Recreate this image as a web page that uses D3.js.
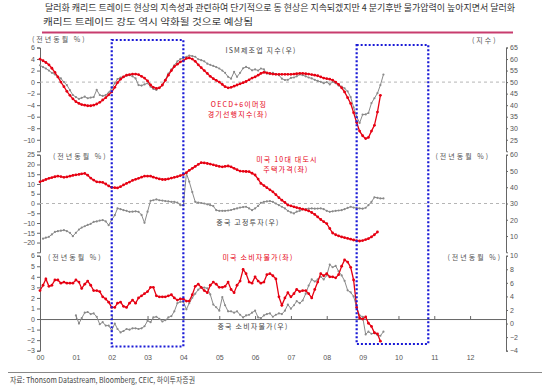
<!DOCTYPE html>
<html>
<head>
<meta charset="utf-8">
<script src="https://cdn.jsdelivr.net/npm/d3@7"></script>
<style>
  body { margin: 0; background: #fff; }
  svg { display: block; }
  .axis text { font-family: 'Liberation Sans', Arial, sans-serif; font-size: 7px; fill: #555; }
  .axis path, .axis line { stroke: #666; }
  .kr { font-family: 'Noto Sans CJK KR', sans-serif; }
</style>
</head>
<body>
<svg id="chart" width="550" height="391"></svg>
<script>

var yearLabels = ['00','01','02','03','04','05','06','07','08','09','10','11','12'];

var topLeftTicks = [6,4,2,0,-2,-4,-6,-8,-10];
var topRightTicks = [65,60,55,50,45,40,35,30,25];
var midLeftTicks = [25,20,15,10,5,0,-5,-10,-15,-20];
var midRightTicks = [60,50,40,30,20,10];
var botLeftTicks = [6,5,4,3,2,1,0,-1,-2,-3];
var botRightTicks = [10,8,6,4,2,0,-2,-4];

// OECD+6 emerging leading indicator, yoy %, from 2000-01
var oecdCli = [
  4.0,3.7,3.4,3.0,2.4,1.7,0.9,0.0,-0.8,-1.6,-2.3,-2.9,
  -3.4,-3.7,-3.9,-4.0,-4.1,-4.1,-4.0,-3.8,-3.5,-3.1,-2.7,-2.2,
  -1.7,-0.9,-0.1,0.5,0.9,1.2,1.3,1.4,1.4,1.3,1.0,0.7,
  0.2,-0.5,-0.9,-1.1,-1.0,-0.5,0.3,1.2,2.0,2.7,3.1,3.5,
  3.7,4.1,4.2,4.0,3.6,3.0,2.5,2.0,1.5,1.0,0.6,0.3,
  0.0,-0.4,-0.8,-1.0,-0.9,-0.7,-0.5,-0.3,-0.1,0.1,0.4,0.7,
  0.9,1.2,1.5,1.7,1.6,1.5,1.4,1.35,1.35,1.35,1.35,1.35,
  1.35,1.4,1.45,1.5,1.5,1.45,1.4,1.3,1.2,1.1,0.9,0.7,
  0.6,0.5,0.35,0.0,-0.4,-1.0,-1.7,-2.7,-3.7,-5.3,-7.0,-8.5,
  -9.3,-9.8,-9.6,-8.5,-7.5,-5.2,-2.3
];
var oecdStart = '2000-01';

// ISM manufacturing index, from 2000-01
var ismIndex = [
  57.3,56.5,55.9,55.0,54.0,53.3,52.2,51.6,50.0,48.7,46.5,44.4,
  43.5,42.7,43.2,43.7,43.0,43.3,43.5,46.6,44.4,44.0,44.4,45.5,
  47.3,49.5,51.3,52.0,52.3,52.8,53.0,52.5,51.6,48.7,48.5,49.0,
  49.5,48.0,47.0,46.6,47.5,48.7,51.0,53.7,55.5,57.3,59.0,60.0,
  60.4,61.0,61.5,61.3,61.0,59.9,59.5,59.0,58.0,57.5,57.0,56.5,
  55.9,55.0,54.0,52.3,51.5,54.4,52.3,54.0,56.0,56.6,56.0,55.1,
  55.5,55.0,55.9,55.5,53.7,53.5,54.0,53.5,53.0,51.5,50.9,51.0,
  51.8,52.0,52.5,53.3,53.0,52.5,52.0,51.6,51.0,50.5,50.1,49.5,
  50.0,49.0,50.1,49.5,48.5,48.0,47.3,46.0,43.5,39.0,35.0,32.3,
  35.9,36.0,36.6,40.9,43.0,45.2,48.7,53.3
];
var ismStart = '2000-01';

// US 10-city house prices, yoy %, from 2000-01
var usHousePrice = [
  11.1,11.7,12.3,12.9,13.3,13.7,14.0,13.8,13.4,13.6,14.0,14.4,
  14.7,14.9,15.2,15.4,14.5,13.0,12.0,11.1,11.0,10.8,10.0,9.0,
  8.2,8.1,8.0,8.6,9.5,10.3,11.0,11.8,12.4,12.9,13.5,14.0,
  14.0,14.0,13.5,13.0,12.6,12.3,12.3,12.6,13.0,13.4,13.8,14.3,
  14.9,15.8,17.0,18.0,19.0,20.0,20.9,20.8,20.5,20.2,19.8,19.4,
  19.0,18.8,19.0,19.2,18.8,18.0,17.3,16.6,16.5,16.4,16.3,15.5,
  14.6,12.5,10.3,9.2,8.1,7.0,6.0,4.5,3.0,1.7,0.5,-0.8,
  -1.2,-1.7,-2.1,-2.5,-2.9,-3.3,-3.8,-4.6,-5.6,-6.9,-8.2,-9.3,
  -10.3,-12.8,-15.1,-16.0,-16.6,-17.1,-17.5,-17.9,-18.3,-18.7,-19.0,-19.2,
  -19.0,-18.5,-18.0,-17.1,-16.0,-14.6
];
var housePriceStart = '2000-01';

// China fixed asset investment, yoy %, from 2000-02
var chinaFai = [
  8.4,9.0,9.5,11.0,12.5,13.0,13.3,13.6,13.0,12.0,9.9,
  12.0,14.0,15.2,16.0,16.8,17.5,18.7,19.0,19.5,19.8,19.0,16.7,
  20.0,22.8,27.0,26.5,25.9,25.5,24.9,25.0,25.2,24.9,23.0,18.1,
  25.0,31.7,32.0,32.5,32.0,31.8,31.5,31.3,31.0,31.0,30.5,29.0,
  29.0,48.6,43.4,37.0,31.0,30.5,30.3,30.0,29.5,29.0,28.4,25.9,
  25.5,25.5,25.5,25.7,26.0,26.5,27.0,27.5,27.8,28.0,27.0,25.9,
  27.0,28.5,30.4,31.0,31.3,31.5,31.0,30.0,29.0,28.0,27.0,25.5,
  24.5,23.9,25.0,25.5,26.4,26.6,26.8,27.0,26.8,26.9,27.0,26.5,
  25.5,24.9,25.2,25.5,25.7,25.9,26.5,27.3,28.0,27.5,27.2,27.0,
  26.8,27.4,29.0,31.0,33.8,33.5,33.1,33.1
];
var faiStart = '2000-02';

// US CPI, yoy %, from 2000-01
var usCpi = [
  2.7,3.2,3.8,3.1,3.2,3.7,3.7,3.4,3.5,3.4,3.4,3.4,
  3.7,3.5,2.9,3.3,3.6,3.2,2.7,2.7,2.6,2.1,1.9,1.6,
  1.1,1.1,1.5,1.6,1.2,1.1,1.5,1.8,1.5,2.0,2.2,2.4,
  2.6,3.0,3.0,2.2,2.1,2.1,2.1,2.2,2.3,2.0,1.8,1.9,
  1.9,1.7,1.7,2.3,3.1,3.3,3.0,2.7,2.5,3.2,3.5,3.3,
  3.0,3.0,3.1,3.5,2.8,2.5,3.2,3.6,4.7,4.3,3.5,3.4,
  4.0,3.6,3.4,3.5,4.2,4.3,4.1,3.8,2.1,1.3,2.0,2.5,
  2.1,2.4,2.8,2.6,2.7,2.7,2.4,2.0,2.8,3.5,4.3,4.1,
  4.3,4.0,4.0,3.9,4.2,5.0,5.6,5.4,4.9,3.7,1.1,0.1,
  0.0,0.2,-0.4,-0.7,-1.3,-1.4,-2.1
];
var usCpiStart = '2000-01';

// China CPI, yoy %, from 2001-01
var chinaCpi = [
  1.2,0.0,0.8,1.6,1.7,1.4,1.5,1.0,-0.1,0.2,-0.3,-0.3,
  -1.0,0.0,-0.8,-1.3,-1.1,-0.8,-0.9,-0.7,-0.7,-0.8,-0.7,-0.4,
  0.4,0.2,0.9,1.0,0.7,0.3,0.5,0.9,1.1,1.8,3.0,3.2,
  3.2,2.1,3.0,3.8,4.4,5.0,5.3,5.3,5.2,4.3,2.8,2.4,
  1.9,3.9,2.7,1.8,1.8,1.6,1.8,1.3,0.9,1.2,1.3,1.6,
  1.9,0.9,0.8,1.2,1.4,1.5,1.0,1.3,1.5,1.4,1.9,2.8,
  2.2,2.7,3.3,3.0,3.4,4.4,5.6,6.5,6.2,6.5,6.9,6.5,
  7.1,8.7,8.3,8.5,7.7,7.1,6.3,4.9,4.6,4.0,2.4,1.2,
  1.0,-1.6,-1.2,-1.5,-1.4,-1.7,-1.8,-1.2
];
var chinaCpiStart = '2001-01';

var periods = [['2002-01','2004-01'], ['2008-11','2010-11']];


var svg = d3.select('#chart');
var red = '#e60012', grey = '#8a8a8a';
var parseMonth = d3.timeParse('%Y-%m');

var x = d3.scaleTime()
    .domain([new Date(2000,0,1), new Date(2013,0,1)])
    .range([40, 506]);

function monthly(start, values) {
    var d0 = parseMonth(start);
    return values.map(function(v, i){
        return {date: d3.timeMonth.offset(d0, i), value: v};
    });
}

// header
svg.append('text').attr('class','kr').attr('x',45).attr('y',11)
    .attr('font-size','9px').attr('fill','#333')
    .attr('textLength',470).attr('lengthAdjust','spacingAndGlyphs')
    .text('달러화 캐리드 트레이드 현상의 지속성과 관련하여 단기적으로 동 현상은 지속되겠지만 4 분기후반 물가압력이 높아지면서 달러화');
svg.append('text').attr('class','kr').attr('x',43).attr('y',25)
    .attr('font-size','9px').attr('fill','#333')
    .attr('textLength',210).attr('lengthAdjust','spacingAndGlyphs')
    .text('캐리드 트레이드 강도 역시 약화될 것으로 예상됨');
svg.append('line').attr('x1',42).attr('x2',513).attr('y1',32.5).attr('y2',32.5)
    .attr('stroke','#c83c6e').attr('stroke-width',2);

var panels = [
    {y0: 47.5, y1: 151.3, left: [-12, 6], right: [20, 65], lt: topLeftTicks, rt: topRightTicks},
    {y0: 154.7, y1: 252.3, left: [-25, 25], right: [0, 60], lt: midLeftTicks, rt: midRightTicks},
    {y0: 255.7, y1: 350.7, left: [-3, 6], right: [-4, 10], lt: botLeftTicks, rt: botRightTicks}
];

panels.forEach(function(p){
    p.yL = d3.scaleLinear().domain(p.left).range([p.y1, p.y0]);
    p.yR = d3.scaleLinear().domain(p.right).range([p.y1, p.y0]);

    svg.append('g').attr('class','axis').attr('transform','translate(40,0)')
        .call(d3.axisLeft(p.yL).tickValues(p.lt).tickSize(3).tickPadding(2).tickFormat(d3.format('d')));
    svg.append('g').attr('class','axis').attr('transform','translate(506,0)')
        .call(d3.axisRight(p.yR).tickValues(p.rt).tickSize(2).tickPadding(2).tickFormat(d3.format('d')));
});

var pTop = panels[0], pMid = panels[1], pBot = panels[2];
var yearDates = yearLabels.map(function(y){ return parseMonth('20' + y + '-01'); });

// reference lines
[pTop, pMid].forEach(function(p){
    svg.append('line').attr('x1',40).attr('x2',506)
        .attr('y1',p.yL(0)).attr('y2',p.yL(0))
        .attr('stroke','#b5b5b5').attr('stroke-dasharray','3,3');
});
svg.append('g').attr('class','axis').attr('transform','translate(0,' + pBot.yL(0) + ')')
    .call(d3.axisBottom(x).tickValues(yearDates)
        .tickSizeInner(-3).tickSizeOuter(0).tickFormat(''));

svg.append('g').attr('class','axis').attr('transform','translate(0,352)')
    .call(d3.axisBottom(x).tickValues(yearDates)
        .tickSize(0).tickPadding(3).tickFormat(function(d, i){ return yearLabels[i]; }))
    .select('.domain').remove();

function drawSeries(points, y, color, r, w) {
    var g = svg.append('g');
    g.append('path').datum(points)
        .attr('d', d3.line().x(function(d){ return x(d.date); }).y(function(d){ return y(d.value); }))
        .attr('fill','none').attr('stroke',color).attr('stroke-width',w);
    g.selectAll('circle').data(points).enter().append('circle')
        .attr('cx', function(d){ return x(d.date); })
        .attr('cy', function(d){ return y(d.value); })
        .attr('r', r).attr('fill', color);
}

drawSeries(monthly(ismStart, ismIndex), pTop.yR, grey, 1.1, 1);
drawSeries(monthly(oecdStart, oecdCli), pTop.yL, red, 1.4, 1.3);
drawSeries(monthly(faiStart, chinaFai), pMid.yR, grey, 1.1, 1);
drawSeries(monthly(housePriceStart, usHousePrice), pMid.yL, red, 1.4, 1.3);
drawSeries(monthly(chinaCpiStart, chinaCpi), pBot.yR, grey, 1.1, 1);
drawSeries(monthly(usCpiStart, usCpi), pBot.yL, red, 1.4, 1.3);

// labels (ls = letter spacing)
var labels = [
    {t: '(전년동월 %)', x: 32, y: 42, c: '#555', a: 'start', ls: 2},
    {t: '(지수)', x: 472, y: 43, c: '#555', a: 'start', ls: 2},
    {t: '(전년동월 %)', x: 53, y: 159, c: '#555', a: 'start', ls: 2},
    {t: '(전년동월 %)', x: 490, y: 159, c: '#555', a: 'end', ls: 2},
    {t: '(전년동월 %)', x: 48, y: 260, c: '#555', a: 'start', ls: 2},
    {t: '(전년동월 %)', x: 502, y: 260, c: '#555', a: 'end', ls: 2},
    {t: 'ISM제조업 지수(우)', x: 261, y: 53, c: '#444', a: 'middle', ls: 1.2},
    {t: 'OECD+6이머징', x: 239, y: 106.5, c: red, a: 'middle', ls: 1.2},
    {t: '경기선행지수(좌)', x: 238, y: 116.5, c: red, a: 'middle', ls: 1.2},
    {t: '미국 10대 대도시', x: 287, y: 161.5, c: red, a: 'middle', ls: 1.2},
    {t: '주택가격(좌)', x: 286, y: 171.5, c: red, a: 'middle', ls: 1.2},
    {t: '중국 고정투자(우)', x: 248, y: 225, c: '#444', a: 'middle', ls: 1.2},
    {t: '미국 소비자물가(좌)', x: 258, y: 260, c: red, a: 'middle', ls: 1.2},
    {t: '중국 소비자물가(우)', x: 253, y: 329, c: '#444', a: 'middle', ls: 1.2}
];
svg.selectAll('.lbl').data(labels).enter().append('text')
    .attr('class','kr lbl')
    .attr('x', function(d){ return d.x; })
    .attr('y', function(d){ return d.y; })
    .attr('text-anchor', function(d){ return d.a; })
    .attr('fill', function(d){ return d.c; })
    .attr('font-size','7px')
    .attr('letter-spacing', function(d){ return d.ls; })
    .text(function(d){ return d.t; });

// highlighted periods
var boxTops = [40, 45], boxBottoms = [346.5, 344];
periods.forEach(function(p, i){
    svg.append('rect')
        .attr('x', x(parseMonth(p[0])))
        .attr('y', boxTops[i])
        .attr('width', x(parseMonth(p[1])) - x(parseMonth(p[0])))
        .attr('height', boxBottoms[i] - boxTops[i])
        .attr('fill','none').attr('stroke','#1a1ad6')
        .attr('stroke-width',2.2).attr('stroke-dasharray','2,2');
});

// source
svg.append('line').attr('x1',8).attr('x2',542).attr('y1',372.5).attr('y2',372.5)
    .attr('stroke','#888').attr('stroke-width',1);
svg.append('text').attr('class','kr').attr('x',10).attr('y',383)
    .attr('font-size','8px').attr('fill','#444')
    .attr('textLength',185).attr('lengthAdjust','spacingAndGlyphs')
    .text('자료: Thonsom Datastream, Bloomberg, CEIC, 하이투자증권');

</script>
</body>
</html>
